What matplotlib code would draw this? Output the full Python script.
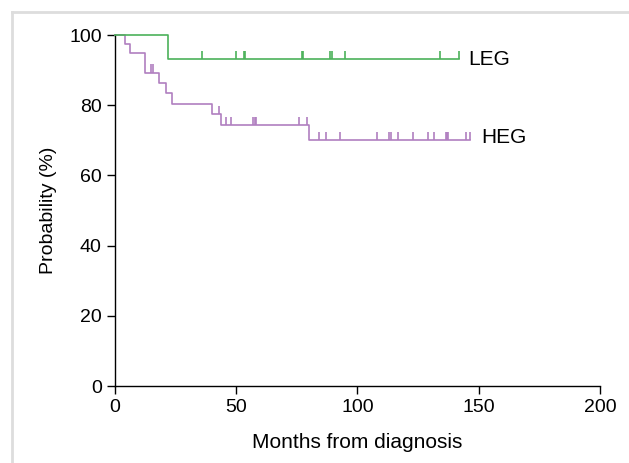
import numpy as np
import matplotlib
matplotlib.use("Agg")
import matplotlib.pyplot as plt
from matplotlib.lines import Line2D

plt.rcParams['font.family'] = ['Liberation Sans', 'DejaVu Sans']

# LEG group: event times (months) and survival after each event (%)
leg_times = [22.0]
leg_surv = [93.1]
leg_end = 142.0
leg_censor = [36, 50, 53.1, 53.8, 77, 77.7, 88.8, 89.5, 94.8, 134, 141.9]

# HEG group
heg_times = [4.0, 6.2, 12.4, 18.0, 21.0, 23.4, 40.0, 43.7, 80.1]
heg_surv = [97.4, 94.9, 89.3, 86.2, 83.4, 80.3, 77.5, 74.4, 70.1]
heg_end = 146.4
heg_censor = [15, 15.8, 43, 45.8, 48, 57, 57.6, 58.1, 75.7, 79, 84, 86.9,
              92.6, 107.9, 113.1, 113.8, 116.8, 123, 128.9, 131.7, 136.4,
              136.8, 137.5, 144.6, 146.4]

green = '#4cb15a'
purple = '#b07fc0'


def km_curve(ax, times, surv, end, censor, color, z):
    t = np.r_[0, times, end]
    s = np.r_[100, surv, surv[-1]]
    ax.step(t, s, where='post', color=color, lw=1.2, clip_on=False, zorder=z)
    # y value at each censor time
    idx = np.searchsorted(times, censor, side='right')
    cy = np.r_[100, surv][idx]
    ax.vlines(censor, cy, cy + 2.3, color=color, lw=1.2, clip_on=False,
              zorder=z)


fig = plt.figure(figsize=(6.29, 4.63), dpi=100)
ax = fig.add_axes([0.1828, 0.1663, 0.7711, 0.7581])

km_curve(ax, heg_times, heg_surv, heg_end, heg_censor, purple, 2)
km_curve(ax, leg_times, leg_surv, leg_end, leg_censor, green, 3)

ax.text(145.6, 93.0, 'LEG', fontsize=15, va='center', ha='left')
ax.text(150.9, 70.8, 'HEG', fontsize=15, va='center', ha='left')

ax.set_xlim(0, 200)
ax.set_ylim(0, 100)
ax.set_xticks([0, 50, 100, 150, 200])
ax.set_yticks([0, 20, 40, 60, 80, 100])
ax.spines['top'].set_visible(False)
ax.spines['right'].set_visible(False)
for sp in ['left', 'bottom']:
    ax.spines[sp].set_linewidth(1.0)
ax.tick_params(direction='out', length=6, width=1.0, labelsize=14)
ax.set_xlabel('Months from diagnosis', fontsize=15, labelpad=12)
ax.set_ylabel('Probability (%)', fontsize=14, labelpad=9)

# light gray frame on the left and top of the figure
fig.add_artist(Line2D([11.5 / 629, 11.5 / 629], [0, 1 - 11.5 / 463],
                      color='#dddddd', lw=2, transform=fig.transFigure))
fig.add_artist(Line2D([11.5 / 629, 1], [1 - 11.5 / 463, 1 - 11.5 / 463],
                      color='#dddddd', lw=2, transform=fig.transFigure))

fig.savefig('out.png', dpi=100)
